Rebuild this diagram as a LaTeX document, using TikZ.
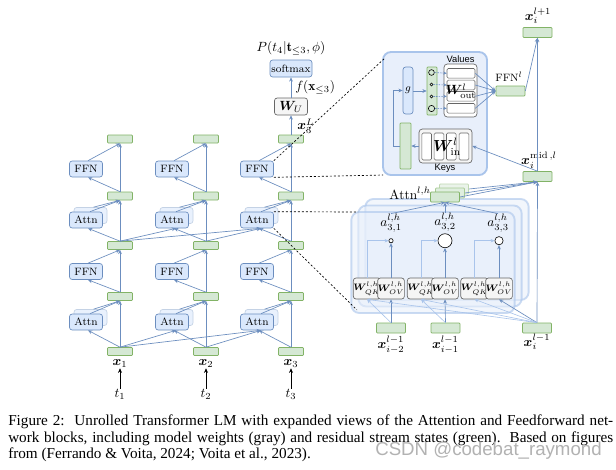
\documentclass[tikz,border=0pt]{standalone}
\usepackage{fontspec}
\newfontfamily\capfont{Liberation Serif}
\newfontfamily\sansf{Liberation Sans}
\usepackage{amsmath,bm}
\usetikzlibrary{arrows.meta,calc}
\definecolor{bd}{HTML}{6C8EBF}
\definecolor{bf}{HTML}{DAE8FC}
\definecolor{gd}{HTML}{82B366}
\definecolor{gf}{HTML}{D5E8D4}
\definecolor{wd}{HTML}{666666}
\definecolor{wf}{HTML}{F5F5F5}
\definecolor{lb}{HTML}{A9C4EB}
\definecolor{bigf}{HTML}{E8EFFB}
\tikzset{
  res/.style={draw=gd, fill=gf, minimum width=18.75pt, minimum height=6pt, inner sep=0pt, rounded corners=0.6pt, line width=0.5pt},
  resb/.style={draw=gd, fill=gf, minimum width=21.75pt, minimum height=7.5pt, inner sep=0pt, rounded corners=0.6pt, line width=0.5pt},
  blk/.style={draw=bd, fill=bf, minimum width=24.75pt, minimum height=12pt, inner sep=0pt, rounded corners=2pt, font=\footnotesize, line width=0.5pt},
  blkshadow/.style={blk, draw=bd!40, fill=bf!60},
  wt/.style={draw=wd, fill=wf, rounded corners=2pt, inner sep=0pt, line width=0.5pt},
  wqk/.style={wt, minimum width=16.5pt, minimum height=15.75pt, font=\scriptsize},
  wrow/.style={draw=wd, fill=white, rounded corners=1pt, minimum width=21pt, minimum height=7.2pt, inner sep=0pt, line width=0.4pt},
  wcol/.style={draw=wd, fill=white, rounded corners=1pt, minimum width=7.2pt, minimum height=20.25pt, inner sep=0pt, line width=0.4pt},
  arr/.style={draw=bd, line width=0.5pt, -{Stealth[length=3.2pt,width=2.8pt]}},
  larr/.style={draw=lb, line width=0.45pt, -{Stealth[length=3pt,width=2.6pt]}},
  darr/.style={draw=bd, line width=0.45pt, dash pattern=on 1.2pt off 0.8pt, -{Stealth[length=2.6pt,width=2.4pt]}},
  dsh/.style={draw=black, line width=0.5pt, dash pattern=on 1.5pt off 1.5pt},
  bigbox/.style={draw=lb, line width=1.4pt, fill=bigf, rounded corners=6pt, inner sep=0pt},
  stackbox/.style={draw=lb, line width=1.4pt, fill=bigf, rounded corners=6pt, inner sep=0pt, minimum width=122.5pt, minimum height=75.75pt, fill opacity=0.55, draw opacity=0.6},
  circ/.style={circle, draw=black, line width=0.45pt, inner sep=0pt},
  lbl/.style={inner sep=0pt, font=\normalsize},
  capline/.style={anchor=base west, inner sep=0pt, font=\capfont\fontsize{11.4}{12.4}\selectfont},
}
\begin{document}
\begin{tikzpicture}[x=0.75pt,y=-0.75pt]
\useasboundingbox (0,0) rectangle (616,469);
\fill[white] (0,0) rectangle (616,469);

% ===================== unrolled transformer =====================
\foreach \c/\xg in {1/120,2/206,3/291}{
  \foreach \r/\yy in {0/351.5,1/296.5,2/245.5,3/196,4/139}{
    \node[res] (g\c\r) at (\xg,\yy) {};
  }
  \node[blkshadow] (as\c A) at (\xg-29.5,317.5) {};
  \node[blk] (a\c A) at (\xg-34,322) {Attn};
  \node[blk] (f\c A) at (\xg-34,271.5) {FFN};
  \node[blkshadow] (as\c B) at (\xg-29.5,215.5) {};
  \node[blk] (a\c B) at (\xg-34,220) {Attn};
  \node[blk] (f\c B) at (\xg-34,169) {FFN};
  \node[lbl] (xl\c) at (\xg,364) {$\bm{x}_\c$};
  \node[lbl] (t\c) at (\xg,394) {$t_\c$};
  \draw[-{Stealth[length=3.5pt,width=3pt]}, line width=0.6pt] (t\c.north) -- (xl\c.south);
  % residual stream
  \draw[arr] (g\c0.north) -- (g\c1.south);
  \draw[arr] (g\c1.north) -- (g\c2.south);
  \draw[arr] (g\c2.north) -- (g\c3.south);
  \draw[arr] (g\c3.north) -- (g\c4.south);
  % blocks
  \draw[arr] (g\c0.north) -- ($(a\c A.south)+(2,0)$);
  \draw[arr] ($(a\c A.north)+(4,0)$) -- (g\c1.south);
  \draw[arr] ($(as\c A.north)+(3,0)$) -- (g\c1.south);
  \draw[arr] (g\c1.north) -- ($(f\c A.south)+(2,0)$);
  \draw[arr] ($(f\c A.north)+(2,0)$) -- (g\c2.south);
  \draw[arr] (g\c2.north) -- ($(a\c B.south)+(2,0)$);
  \draw[arr] ($(a\c B.north)+(4,0)$) -- (g\c3.south);
  \draw[arr] ($(as\c B.north)+(3,0)$) -- (g\c3.south);
  \draw[arr] (g\c3.north) -- ($(f\c B.south)+(2,0)$);
  \draw[arr] ($(f\c B.north)+(2,0)$) -- (g\c4.south);
}
% cross-position attention
\foreach \s/\t in {1/2,1/3,2/3}{
  \draw[arr] (g\s0.north) -- ($(a\t A.south)+(4,0)$);
  \draw[arr] (g\s2.north) -- ($(a\t B.south)+(4,0)$);
}
% unembedding
\node[wt, minimum width=24.75pt, minimum height=12.75pt] (wu) at (291,106.5) {$\bm{W}_U$};
\node[blk, minimum width=31.5pt, minimum height=12.75pt] (sm) at (291,68.5) {softmax};
\node[lbl] (pl) at (291,48) {$P(t_4|\mathbf{t}_{\leq 3},\phi)$};
\node[lbl, anchor=west] (fl) at (295,87) {$f(\mathbf{x}_{\leq 3})$};
\node[lbl, anchor=west] (xL) at (297,126) {$\bm{x}_3^L$};
\draw[arr] (g34.north) -- (wu.south);
\draw[arr] (wu.north) -- (sm.south);

% ===================== FFN detail =====================
\node[bigbox, minimum width=78pt, minimum height=92.25pt] (ffnbox) at (435,113.5) {};
\node[blk, minimum width=7.5pt, minimum height=35.25pt] (gbox) at (408,90.5) {$g$};
\node[resb, minimum width=7.5pt, minimum height=36pt] (act) at (432,91) {};
\node[circ, fill=gf, minimum size=4.3pt] (c1) at (431.5,72.5) {};
\node[circ, fill=gf, minimum size=2.2pt] (c2) at (431.5,84.5) {};
\node[circ, fill=gf, minimum size=2.2pt] (c3) at (431.5,96.5) {};
\node[circ, fill=gf, minimum size=4.7pt] (c4) at (431.5,108.5) {};
\node[wt, fill=white, minimum width=24.75pt, minimum height=39.75pt, rounded corners=2.5pt] (vals) at (460.5,90.5) {};
\node[wrow] (v1) at (461,73.3) {};
\node[wrow] (v2) at (461,85) {};
\node[wrow] (v3) at (461,96.3) {};
\node[wrow] (v4) at (461,108.3) {};
\node[lbl] (wout) at (461,91) {$\bm{W}^l_{\mathrm{out}}$};
\node[inner sep=0pt, font=\sansf\fontsize{7}{8}\selectfont] (vlab) at (460.5,59.5) {Values};
\foreach \i in {1,2,3,4}{ \draw[darr] (c\i.east) -- (v\i.west); }
\draw[arr] (gbox.east |- act.west) -- (act.west);
\node[resb] (ffnout) at (510.5,91) {};
\node[inner sep=0pt, font=\footnotesize] (ffnl) at (509,77) {$\mathrm{FFN}^l$};
\foreach \i in {1,2,3,4}{ \draw[arr] (v\i.east) -- (ffnout.west); }
\node[wt, minimum width=39.75pt, minimum height=25.5pt, rounded corners=2.5pt] (keys) at (445.5,146) {};
\node[wcol] (k1) at (426.7,146.5) {};
\node[wcol] (k2) at (439,146.5) {};
\node[wcol] (k3) at (451.3,146.5) {};
\node[wcol] (k4) at (464,146.5) {};
\node[inner sep=0pt, font=\large] (win) at (447,147) {$\bm{W}^l_{\mathrm{in}}$};
\node[inner sep=0pt, font=\sansf\fontsize{7}{8}\selectfont] (klab) at (445,168) {Keys};
\node[resb, minimum width=8.25pt, minimum height=34.5pt] (kact) at (405.5,146) {};
\draw[arr] (keys.west) -- (kact.east);
\coordinate (kc) at (393,146);
\draw[arr] (kact.west) -- (kc) |- (gbox.west);
\node[resb] (xnext) at (537.5,32.5) {};
\node[lbl] (xnl) at (538,16) {$\bm{x}_i^{l+1}$};
\node[resb] (xmid) at (537.5,176.5) {};
\node[lbl] (xml) at (539,160) {$\bm{x}_i^{\mathrm{mid}\,,l}$};
\draw[arr] (xmid.north) -- (xnext.south);
\draw[arr] (ffnout.east) -- (xnext.south);
\draw[arr] (xmid.north) -- (keys.east);

% ===================== Attention detail =====================
\node[stackbox] (ab3) at (447,249.5) {};
\node[stackbox] (ab2) at (440,256) {};
\node[stackbox] (ab1) at (433,262.5) {};
\node[resb, draw=gd!50, fill=gf!50] (ah2) at (454,189) {};
\node[resb, draw=gd!70, fill=gf!75] (ah1) at (450,193) {};
\node[resb] (ahead) at (445,197) {};
\node[lbl, anchor=east] (ahl) at (431,193) {$\mathrm{Attn}^{l,h}$};
\draw[arr] (ahead.east) -- (xmid.south);
\draw[arr] (ah1.east) -- (xmid.south);
\draw[arr] (ah2.east) -- (xmid.south);
\node[lbl] (a1) at (391,223) {$a^{l,h}_{3,1}$};
\node[lbl] (a2) at (445,222) {$a^{l,h}_{3,2}$};
\node[lbl] (a3) at (498,223) {$a^{l,h}_{3,3}$};
\draw[arr] (a1.north) -- (ahead.south);
\draw[arr] (a2.north) -- (ahead.south);
\draw[arr] (a3.north) -- (ahead.south);
\node[circ, fill=white, minimum size=3.2pt] (o1) at (391,240.7) {};
\node[circ, fill=white, minimum size=10.5pt] (o2) at (445,240.7) {};
\node[circ, fill=white, minimum size=6.2pt] (o3) at (499,240.7) {};
\node[wqk] (qk1) at (367,288.5) {$\bm{W}^{l,h}_{QK}$};
\node[wqk] (ov1) at (391,288.5) {$\bm{W}^{l,h}_{OV}$};
\node[wqk] (qk2) at (421,288.5) {$\bm{W}^{l,h}_{QK}$};
\node[wqk] (ov2) at (445,288.5) {$\bm{W}^{l,h}_{OV}$};
\node[wqk] (qk3) at (474.5,288.5) {$\bm{W}^{l,h}_{QK}$};
\node[wqk] (ov3) at (499,288.5) {$\bm{W}^{l,h}_{OV}$};
\foreach \i in {1,2,3}{
  \draw[arr] (ov\i.north) -- (o\i.south);
  \draw[larr] (qk\i.north) |- (o\i.west);
}
\node[resb] (xa) at (391,328) {};
\node[resb] (xb) at (445.5,328) {};
\node[resb] (xc) at (537,328) {};
\node[lbl] (xal) at (391,345) {$\bm{x}_{i-2}^{l-1}$};
\node[lbl] (xbl) at (445.5,345) {$\bm{x}_{i-1}^{l-1}$};
\node[lbl] (xcl) at (537,342) {$\bm{x}_{i}^{l-1}$};
\draw[arr] (xa.north) -- (ov1.south);
\draw[larr] (xa.north) -- (qk1.south);
\draw[arr] (xb.north) -- (ov2.south);
\draw[larr] (xb.north) -- (qk2.south);
\draw[arr] (xc.north) -- (ov3.south);
\draw[larr] (xc.north) -- (qk3.south);
\draw[larr] (xc.north) -- (qk2.south);
\draw[larr] (xc.north) -- (qk1.south);
\draw[arr] (xc.north) -- (xmid.south);

% ===================== zoom dashes =====================
\coordinate (d1) at (385,58);
\coordinate (d2) at (383,175);
\coordinate (d3) at (358,212);
\coordinate (d4) at (357,310);
\draw[dsh] (f3B.north east) -- (d1);
\draw[dsh] (f3B.south east) -- (d2);
\draw[dsh] (a3B.north east) -- (d3);
\draw[dsh] (a3B.south east) -- (d4);

% ===================== caption =====================
\node[capline] (cap1) at (8,425.5)
  {\hbox to 453.75pt{Figure 2:\ \ Unrolled Transformer LM with expanded views of the Attention and Feedforward net-}};
\node[capline] (cap2) at (8,442)
  {\hbox to 453.75pt{work blocks, including model weights (gray) and residual stream states (green).\ \ Based on figures}};
\node[capline] (cap3) at (8,458.5)
  {from (Ferrando \& Voita, 2024; Voita et al., 2023).};
\node[anchor=base west, inner sep=0pt, text=black!30, font=\sansf\fontsize{14}{15}\selectfont] (wm) at (375,455)
  {CSDN @codebat\_raymond};
\end{tikzpicture}
\end{document}
